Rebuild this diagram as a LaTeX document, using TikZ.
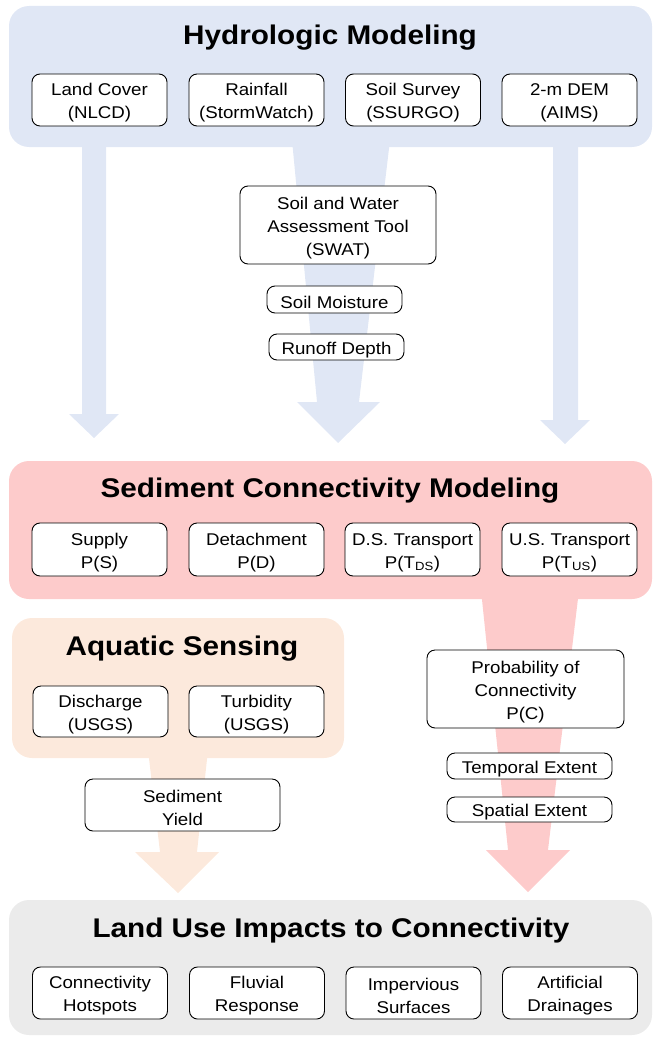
\documentclass[tikz,border=0pt]{standalone}
\usepackage{fontspec}
\setmainfont[FakeStretch=1.1]{Liberation Sans}
\definecolor{hydroblue}{HTML}{E0E7F5}
\definecolor{sedred}{HTML}{FDCBCB}
\definecolor{aquapeach}{HTML}{FCE9DC}
\definecolor{usegray}{HTML}{EBEBEB}
\newcommand{\boxstrut}{\rule{0pt}{18pt}}

\begin{document}
\begin{tikzpicture}[x=1pt,y=-1pt,
        panel/.style={rounded corners=20pt},
        box/.style={draw=black, line width=0.9pt, fill=white, rounded corners=8pt,
            align=center, inner sep=0pt, font=\fontsize{17}{23}\selectfont},
        title/.style={font=\fontsize{27}{30}\selectfont\bfseries}]
    \useasboundingbox (0,0) rectangle (654,1038);

    % block arrows (behind the panels)
    \fill[hydroblue] (82,140) -- (106,140) -- (106,414) -- (119,414) -- (94,438) -- (69,414) -- (82,414) -- cycle;
    \fill[hydroblue] (553,140) -- (578,140) -- (578,420) -- (590,420) -- (565,444) -- (540,420) -- (553,420) -- cycle;
    \fill[hydroblue] (292,140) -- (390,140) -- (359,402) -- (380,402) -- (338,443) -- (297,402) -- (317,402) -- cycle;
    \fill[sedred] (481,590) -- (579,590) -- (548,850) -- (570,850) -- (528,892) -- (486,850) -- (508,850) -- cycle;
    \fill[aquapeach] (148,750) -- (208,750) -- (197,852) -- (219,852) -- (178,893) -- (135,852) -- (160,852) -- cycle;

    % panels
    \fill[hydroblue, panel] (9,6) rectangle (652,147);
    \fill[sedred, panel] (9,461) rectangle (652,599);
    \fill[aquapeach, panel] (12,618) rectangle (344,758);
    \fill[usegray, panel] (9,900) rectangle (652,1035);

    % titles
    \node[title] (hydro) at (330,37.5) {Hydrologic Modeling};
    \node[title] (sed) at (330,490.5) {Sediment Connectivity Modeling};
    \node[title] (aqua) at (182,648.5) {Aquatic Sensing};
    \node[title] (landuse) at (331,930.5) {Land Use Impacts to Connectivity};

    % hydrologic inputs
    \foreach \x/\n/\t in {99.5/lc/{Land Cover\\(NLCD)}, 256.5/rain/{Rainfall\\(StormWatch)},
            413/soil/{Soil Survey\\(SSURGO)}, 569.5/dem/{2-m DEM\\(AIMS)}} {
            \node[box, minimum width=135pt, minimum height=52pt] (\n) at (\x,100) {\boxstrut\t};
        }
    \node[box, minimum width=196pt, minimum height=78pt] (swat) at (338,225) {\boxstrut Soil and Water\\Assessment Tool\\(SWAT)};
    \node[box, minimum width=135pt, minimum height=27pt] (moist) at (334.5,299.5) {\boxstrut Soil Moisture};
    \node[box, minimum width=135pt, minimum height=26pt] (runoff) at (336.5,347) {\boxstrut Runoff Depth};

    % connectivity components
    \foreach \x/\n/\t in {99.5/sup/{Supply\\P(S)}, 256.5/det/{Detachment\\P(D)},
            412.5/dst/{D.S. Transport\\P(T\textsubscript{DS})}, 569.5/ust/{U.S. Transport\\P(T\textsubscript{US})}} {
            \node[box, minimum width=135pt, minimum height=53pt] (\n) at (\x,549.5) {\boxstrut\t};
        }

    % aquatic sensing
    \node[box, minimum width=135pt, minimum height=51pt] (dis) at (100.5,711.5) {\boxstrut Discharge\\(USGS)};
    \node[box, minimum width=135pt, minimum height=51pt] (turb) at (256.5,711.5) {\boxstrut Turbidity\\(USGS)};
    \node[box, minimum width=195pt, minimum height=52pt] (yield) at (182.5,805) {\boxstrut Sediment\\Yield};

    % probability of connectivity
    \node[box, minimum width=197pt, minimum height=78pt] (prob) at (525.5,689) {\boxstrut Probability of\\Connectivity\\P(C)};
    \node[box, minimum width=165pt, minimum height=26pt] (temp) at (529.5,766) {\boxstrut Temporal Extent};
    \node[box, minimum width=165pt, minimum height=25pt] (spat) at (529.5,809.5) {\boxstrut Spatial Extent};

    % land use impacts
    \foreach \x/\n/\t in {100/hot/{Connectivity\\Hotspots}, 257/fluv/{Fluvial\\Response},
            413.5/imp/{Impervious\\Surfaces}, 570/drain/{Artificial\\Drainages}} {
            \node[box, minimum width=135pt, minimum height=52pt] (\n) at (\x,993) {\boxstrut\t};
        }
\end{tikzpicture}
\end{document}
